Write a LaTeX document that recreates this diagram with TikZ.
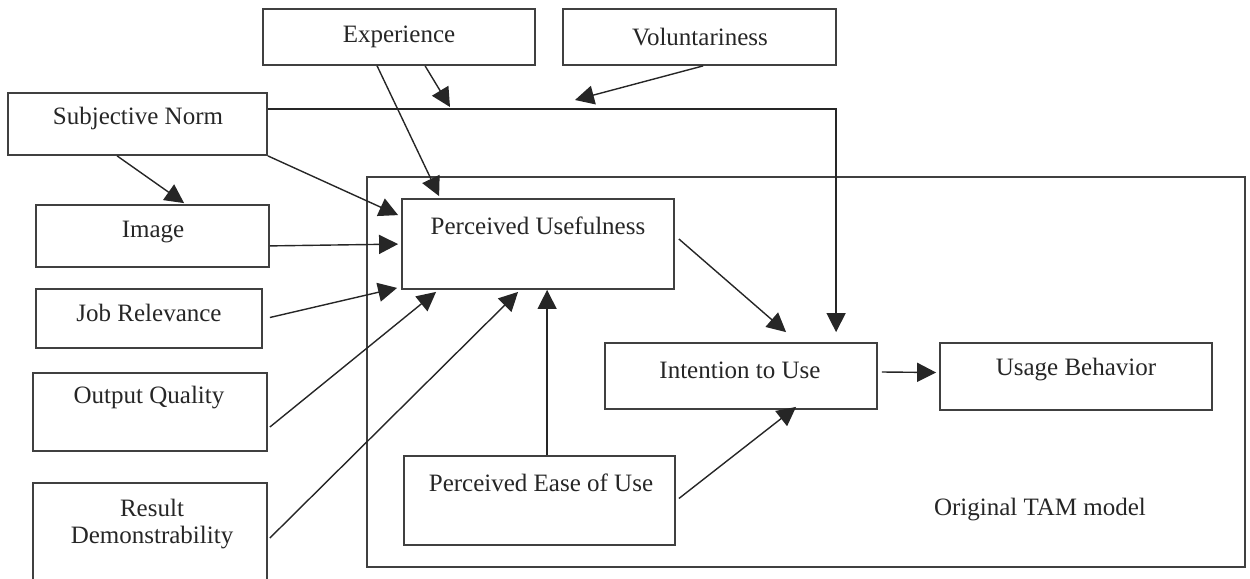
\documentclass[tikz,border=0pt]{standalone}
\usepackage{fontspec}
\setmainfont{Liberation Serif}
\usetikzlibrary{arrows.meta,calc}
\tikzset{
  box/.style={draw=black!75, line width=0.9pt, inner sep=0pt, fill=none},
  lbl/.style={inner sep=0pt, font=\fontsize{12.5pt}{14pt}\selectfont, text=black!85, align=center},
  arr/.style={draw=black!85, line width=0.7pt, -{Triangle[length=9.5pt,width=9.5pt]}},
  ln/.style={draw=black!85, line width=0.7pt}
}
\begin{document}
\begin{tikzpicture}[x=0.5pt,y=-0.5pt]
\useasboundingbox (0,0) rectangle (1250,579);
% boxes
\node[box, minimum width=878*0.5pt, minimum height=390*0.5pt] (tam) at (806,372) {};
\node[box, minimum width=272*0.5pt, minimum height=56*0.5pt] (exp) at (399,37) {};
\node[box, minimum width=273*0.5pt, minimum height=56*0.5pt] (vol) at (699.5,37) {};
\node[box, minimum width=259*0.5pt, minimum height=62*0.5pt] (sn) at (137.5,124) {};
\node[box, minimum width=233*0.5pt, minimum height=62*0.5pt] (img) at (152.5,236) {};
\node[box, minimum width=226*0.5pt, minimum height=59*0.5pt] (jr) at (149,318.5) {};
\node[box, minimum width=234*0.5pt, minimum height=78*0.5pt] (oq) at (150,412) {};
\node[box, minimum width=234*0.5pt, minimum height=110*0.5pt] (rd) at (150,538) {};
\node[box, minimum width=272*0.5pt, minimum height=90*0.5pt] (pu) at (538,244) {};
\node[box, minimum width=271*0.5pt, minimum height=89*0.5pt] (peou) at (539.5,500.5) {};
\node[box, minimum width=272*0.5pt, minimum height=66*0.5pt] (itu) at (741,376) {};
\node[box, minimum width=272*0.5pt, minimum height=67*0.5pt] (ub) at (1076,376.5) {};
% labels
\node[lbl] (texp) at (399,37) {Experience};
\node[lbl] (tvol) at (700,37) {Voluntariness};
\node[lbl] (tsn) at (138,118) {Subjective Norm};
\node[lbl] (timg) at (153,232) {Image};
\node[lbl] (tjr) at (149,313) {Job Relevance};
\node[lbl] (toq) at (149,398) {Output Quality};
\node[lbl] (trd1) at (152,508) {Result};
\node[lbl] (trd2) at (152,538) {Demonstrability};
\node[lbl] (tpu) at (538,226) {Perceived Usefulness};
\node[lbl] (tpeou) at (541,483) {Perceived Ease of Use};
\node[lbl] (titu) at (740,370) {Intention to Use};
\node[lbl] (tub) at (1076,370) {Usage Behavior};
\node[lbl] (ttam) at (1040,510) {Original TAM model};
% moderator targets on the line
\coordinate (m1) at (450,107);
\coordinate (m2) at (575,100);
% connectors
\draw[arr] ($(exp.south west)+(115,0)$) -- ($(pu.north west)+(38,-2)$);
\draw[arr] ($(exp.south west)+(163,0)$) -- (m1);
\draw[arr] ($(vol.south west)+(141,0)$) -- (m2);
\draw[arr] ($(sn.north east)+(0,17)$) -| ($(itu.north west)+(232,-10)$);
\draw[arr] ($(sn.south west)+(110,0)$) -- ($(img.north west)+(149,-1)$);
\draw[arr] (sn.south east) -- ($(pu.north west)+(-3,17)$);
\draw[arr] ($(img.south east)+(0,-22)$) -- ($(pu.north west)+(-3,46)$);
\draw[arr] ($(jr.east)+(7,-1)$) -- ($(pu.south west)+(-4,-2)$);
\draw[arr] ($(oq.east)+(2,15)$) -- ($(pu.south west)+(35,2)$);
\draw[arr] ($(rd.east)+(2,0)$) -- ($(pu.south west)+(117,2)$);
\draw[arr] ($(peou.north west)+(144,0)$) -- ($(pu.south west)+(146,0)$);
\draw[arr] ($(pu.east)+(4,-5)$) -- ($(itu.north west)+(182,-10)$);
\draw[arr] ($(peou.east)+(3,-2)$) -- ($(itu.south west)+(192,-3)$);
\draw[arr] ($(itu.east)+(4,-4)$) -- ($(ub.west)+(-3,-4)$);
\end{tikzpicture}
\end{document}
